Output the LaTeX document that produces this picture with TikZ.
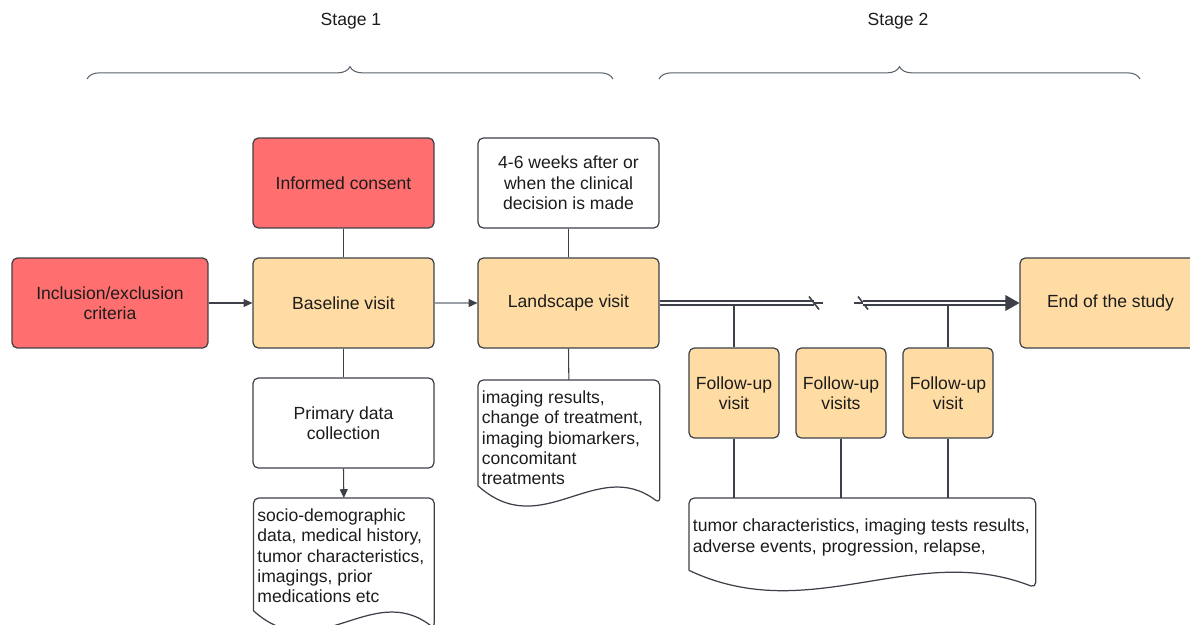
\documentclass[tikz,border=0pt]{standalone}
\usepackage{fontspec}
\setmainfont{Liberation Sans}
\usetikzlibrary{arrows.meta,calc,decorations.pathreplacing}
\definecolor{linec}{HTML}{3D4048}
\definecolor{lightc}{HTML}{9AA0A6}
\definecolor{redc}{HTML}{FF6F6F}
\definecolor{visitc}{HTML}{FFDCA3}
\definecolor{bracec}{HTML}{5B636C}
\definecolor{textc}{HTML}{1C1C1C}
\newcommand{\doctext}[3]{\parbox[c][#2][t]{#1}{\begin{tabular}[t]{@{}l@{}}#3\end{tabular}}}
\newcommand{\docoutline}[1]{%
  \draw[docline] ($(#1.south west)+(0,0.4cm)$) [rounded corners=3pt] -- (#1.north west) -- (#1.north east) -- ($(#1.south east)+(0,0.05cm)$) [sharp corners] .. controls ($(#1.south west)!0.65!(#1.south east)+(0,1.0cm)$) and ($(#1.south west)!0.35!(#1.south east)+(0,-0.75cm)$) .. ($(#1.south west)+(0,0.4cm)$);}
\tikzset{
  every node/.style={font=\fontsize{10}{11.6}\selectfont, text=textc},
  box/.style={draw=linec, line width=0.7pt, rounded corners=3pt, minimum width=3.62cm, minimum height=1.8cm, align=center},
  redbox/.style={box, fill=redc},
  visitbox/.style={box, fill=visitc},
  notebox/.style={box, fill=white},
  followbox/.style={visitbox, minimum width=1.8cm},
  docbox/.style={anchor=north west, inner xsep=2pt, inner ysep=5pt},
  docline/.style={draw=linec, line width=0.7pt, line join=round},
  conn/.style={draw=linec, line width=0.6pt},
  arr/.style={conn, -{Triangle[length=5pt,width=4.5pt]}},
  dbl/.style={draw=linec, line width=1.05pt, double=white, double distance=1.2pt},
  stagebrace/.style={draw=bracec, line width=0.6pt, decorate, decoration={brace, amplitude=7pt}}
}
\begin{document}
\begin{tikzpicture}[x=0.02cm, y=-0.02cm]
\useasboundingbox (0,0) rectangle (1190,625);
% stages
\node (stage1) at (351,21) {Stage 1};
\node (stage2) at (898,21) {Stage 2};
\coordinate (b1l) at (87,79);
\coordinate (b1r) at (613,79);
\coordinate (b2l) at (659,79);
\coordinate (b2r) at (1140,79);
\draw[stagebrace] (b1l) -- (b1r);
\draw[stagebrace] (b2l) -- (b2r);

% boxes
\node[redbox] (consent) at (343.5,183) {Informed consent};
\node[notebox] (weeks) at (568.5,183) {4-6 weeks after or\\when the clinical\\decision is made};
\node[redbox, minimum width=3.92cm] (incl) at (110,303) {Inclusion/exclusion\\criteria};
\node[visitbox] (baseline) at (343.5,303) {Baseline visit};
\node[visitbox] (landscape) at (568.5,303) {Landscape visit};
\node[visitbox] (endstudy) at (1110.5,303) {End of the study};
\node[notebox] (primary) at (343.5,423) {Primary data\\collection};
\node[followbox] (follow1) at (734,393) {Follow-up\\visit};
\node[followbox] (follow2) at (841,393) {Follow-up\\visits};
\node[followbox] (follow3) at (948,393) {Follow-up\\visit};

% documents
\node[docbox] (socio) at (253.5,498) {\doctext{3.46cm}{2.29cm}{socio-demographic\\data, medical history,\\tumor characteristics,\\imagings, prior\\medications etc}};
\node[docbox] (imaging) at (478,380) {\doctext{3.48cm}{2.15cm}{imaging results,\\change of treatment,\\imaging biomarkers,\\concomitant\\treatments}};
\node[docbox, inner ysep=11pt] (fdoc) at (689,498) {\doctext{6.78cm}{1.06cm}{tumor characteristics, imaging tests results,\\adverse events, progression, relapse,}};
\docoutline{socio}
\docoutline{imaging}
\docoutline{fdoc}

% connectors
\draw[conn] (consent) -- (baseline);
\draw[conn] (weeks) -- (landscape);
\draw[arr] (incl) -- (baseline);
\draw[conn, draw=lightc, -{Triangle[length=5pt,width=4.5pt,color=linec]}] (baseline) -- (landscape);
\draw[conn] (baseline) -- (primary);
\draw[arr] (primary.south) -- (socio.north);
\draw[conn] (landscape.south) -- (imaging.north);
\draw[conn] (follow1.north) -- (follow1.north |- landscape.east);
\draw[conn] (follow3.north) -- (follow3.north |- landscape.east);
\foreach \f in {follow1,follow2,follow3}
  \draw[conn] (\f.south) -- (\f.south |- fdoc.north);

% timeline with break
\coordinate (brkA) at (814,303);
\coordinate (brkA2) at (823,303);
\coordinate (brkB) at (854,303);
\coordinate (brkB2) at (863,303);
\draw[dbl] (landscape.east) -- (brkA);
\draw[conn] (brkA) -- (brkA2);
\draw[conn, line width=0.9pt] ($(brkA)+(-5,-6.5)$) -- ($(brkA)+(5,6.5)$);
\draw[conn] (brkB) -- (brkB2);
\draw[conn, line width=0.9pt] ($(brkB2)+(-5,-6.5)$) -- ($(brkB2)+(5,6.5)$);
\draw[dbl, shorten >=7pt] (brkB2) -- (endstudy.west);
\draw[conn, -{Triangle[length=8pt,width=9pt]}] ($(endstudy.west)+(-10,0)$) -- (endstudy.west);
\end{tikzpicture}
\end{document}
